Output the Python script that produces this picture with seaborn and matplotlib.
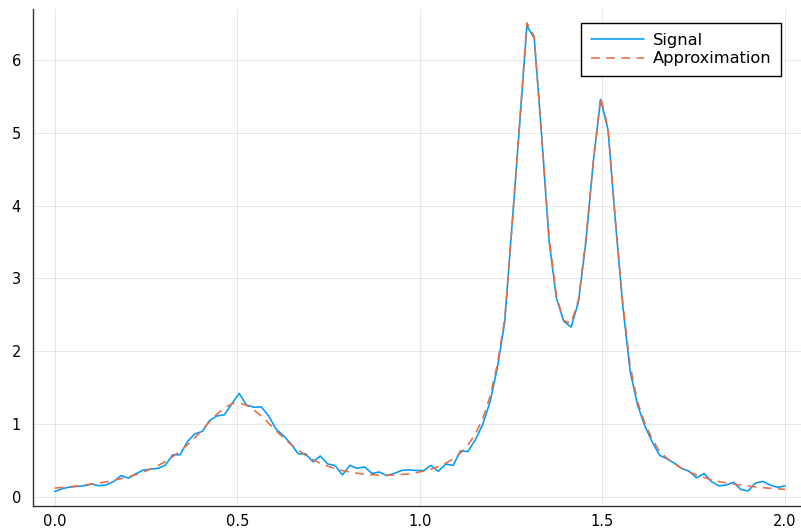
import numpy as np
import pandas as pd
import matplotlib
matplotlib.use("Agg")
import matplotlib.pyplot as plt
import seaborn as sns

# 100 evenly spaced sample points on [0, 2]
x_start, x_stop, n_points = 0.0, 2.0, 100

signal = [0.073, 0.110, 0.133, 0.142, 0.151, 0.174, 0.151, 0.165, 0.21, 0.29,
          0.256, 0.316, 0.366, 0.38, 0.39, 0.435, 0.577, 0.577, 0.76, 0.864,
          0.897, 1.048, 1.11, 1.126, 1.277, 1.42, 1.26, 1.23, 1.235, 1.11,
          0.93, 0.84, 0.73, 0.59, 0.59, 0.48, 0.56, 0.45, 0.43, 0.30,
          0.43, 0.39, 0.41, 0.32, 0.34, 0.29, 0.32, 0.36, 0.37, 0.36,
          0.36, 0.43, 0.35, 0.45, 0.43, 0.63, 0.62, 0.78, 0.99, 1.30,
          1.77, 2.40, 3.75, 5.08, 6.47, 6.30, 4.97, 3.52, 2.73, 2.41,
          2.33, 2.68, 3.50, 4.60, 5.46, 5.04, 3.78, 2.62, 1.72, 1.26,
          0.97, 0.75, 0.57, 0.52, 0.46, 0.39, 0.35, 0.26, 0.32, 0.21,
          0.15, 0.16, 0.20, 0.10, 0.08, 0.19, 0.21, 0.16, 0.13, 0.15]

approximation = [0.119, 0.128, 0.137, 0.148, 0.160, 0.174, 0.189, 0.206, 0.226, 0.249,
                 0.275, 0.305, 0.340, 0.381, 0.429, 0.485, 0.551, 0.627, 0.714, 0.812,
                 0.919, 1.030, 1.135, 1.221, 1.276, 1.289, 1.258, 1.19, 1.11, 1.01,
                 0.91, 0.81, 0.72, 0.64, 0.57, 0.51, 0.46, 0.42, 0.39, 0.36,
                 0.34, 0.323, 0.311, 0.302, 0.297, 0.296, 0.299, 0.305, 0.316, 0.331,
                 0.352, 0.379, 0.415, 0.461, 0.522, 0.602, 0.710, 0.859, 1.069, 1.375,
                 1.82, 2.45, 3.72, 5.12, 6.51, 6.32, 4.95, 3.58, 2.76, 2.42,
                 2.38, 2.71, 3.54, 4.60, 5.49, 5.07, 3.80, 2.66, 1.80, 1.30,
                 1.01, 0.79, 0.62, 0.53, 0.455, 0.39, 0.34, 0.30, 0.265, 0.235,
                 0.21, 0.19, 0.175, 0.16, 0.146, 0.135, 0.125, 0.116, 0.108, 0.101]

series_names = ["Signal", "Approximation"]
x_ticks = [0.0, 0.5, 1.0, 1.5, 2.0]
x_tick_labels = ["0.0", "0.5", "1.0", "1.5", "2.0"]
y_ticks = [0, 1, 2, 3, 4, 5, 6]

x = np.linspace(x_start, x_stop, n_points)
df_sig = pd.DataFrame({"x": x, "y": signal})
df_apx = pd.DataFrame({"x": x, "y": approximation})

sns.set_style("white")
plt.rcParams["font.family"] = ["DejaVu Sans"]
plt.rcParams["text.color"] = "black"

W, H = 801, 531
fig = plt.figure(figsize=(W / 100, H / 100), dpi=100)
# axes placement in pixels
left_px, right_px = 32.8, 807.0
top_px, bottom_px = 9.0, 505.5
ax = fig.add_axes([left_px / W, (H - bottom_px) / H,
                   (right_px - left_px) / W, (bottom_px - top_px) / H])

c_sig = "#009AFA"
c_apx = "#E26F46"
dash = (0, (5.5, 4.0))

sns.lineplot(data=df_sig, x="x", y="y", ax=ax, color=c_sig, linewidth=1.15,
             label=series_names[0], estimator=None, sort=False)
sns.lineplot(data=df_apx, x="x", y="y", ax=ax, color=c_apx, linewidth=1.15,
             label=series_names[1], estimator=None, sort=False)
ax.lines[1].set_linestyle(dash)

ax.set_xlim(-0.06, 2.06)
ax.set_ylim(-0.12, 6.70)
ax.set_xticks(x_ticks)
ax.set_xticklabels(x_tick_labels)
ax.set_yticks(y_ticks)
ax.set_xlabel("")
ax.set_ylabel("")

ax.grid(True, color="black", alpha=0.1, linewidth=0.6)
for s in ["top", "right"]:
    ax.spines[s].set_visible(False)
for s in ["left", "bottom"]:
    ax.spines[s].set_color("#333333")
    ax.spines[s].set_linewidth(1.0)

ax.tick_params(axis="both", direction="in", length=4.5, width=0.8,
               color="#222222", labelsize=10.5, labelcolor="black")
ax.tick_params(axis="x", pad=6)
ax.tick_params(axis="y", pad=8.5)

leg = ax.legend(loc="upper right", bbox_to_anchor=(781 / W, 1 - 23 / H),
                bbox_transform=fig.transFigure, frameon=True, fancybox=False,
                framealpha=1.0, edgecolor="black", fontsize=11.7,
                handlelength=3.25, handletextpad=0.55, borderpad=0.6,
                labelspacing=0.22, borderaxespad=0.0)
leg.get_frame().set_linewidth(1.0)
leg.get_lines()[1].set_linestyle(dash)
for t in leg.get_texts():
    t.set_color("black")

fig.savefig("out.png", dpi=100)
